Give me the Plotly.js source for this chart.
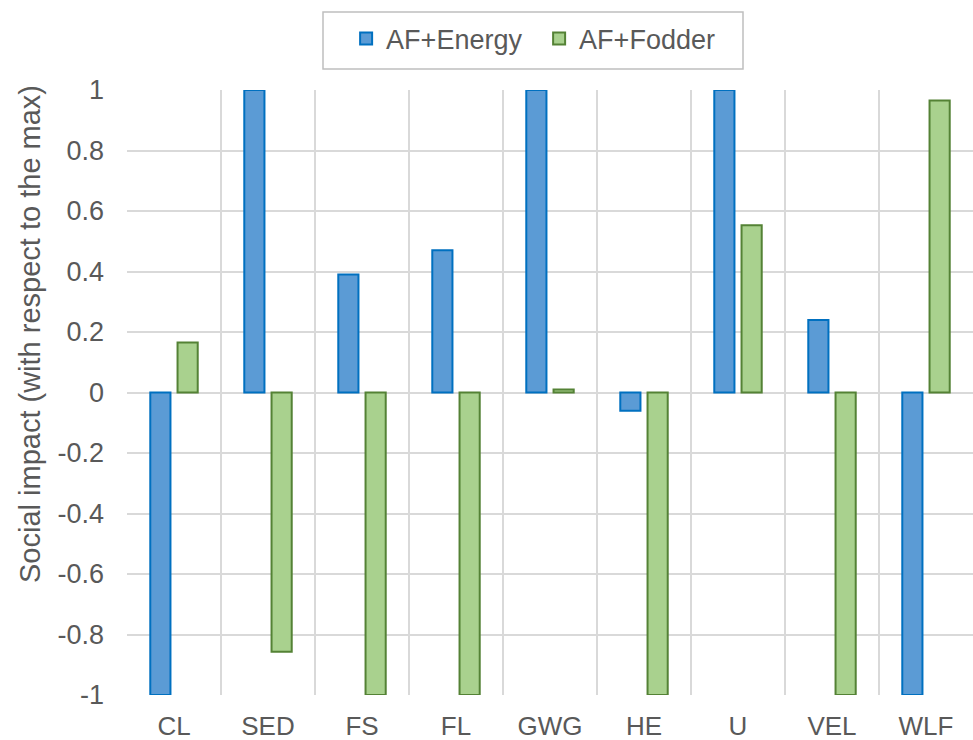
<!DOCTYPE html>
<html>
<head>
<meta charset="utf-8">
<script src="https://cdn.plot.ly/plotly-3.0.1.min.js"></script>
<style>
  html, body { margin: 0; padding: 0; background: #ffffff; }
  #chart { width: 973px; height: 740px; }
</style>
</head>
<body>
<div id="chart"></div>
<script>
// Social impact indicators, normalised to the maximum of each indicator
const categories = ['CL', 'SED', 'FS', 'FL', 'GWG', 'HE', 'U', 'VEL', 'WLF'];
const energyValues = [-1, 1, 0.39, 0.47, 1, -0.06, 1, 0.24, -1];
const fodderValues = [0.165, -0.857, -1, -1, 0.01, -1, 0.553, -1, 0.965];
const seriesNames = ['AF+Energy', 'AF+Fodder'];
const yTickValues = [1, 0.8, 0.6, 0.4, 0.2, 0, -0.2, -0.4, -0.6, -0.8, -1];
const yTickLabels = ['1', '0.8', '0.6', '0.4', '0.2', '0', '-0.2', '-0.4', '-0.6', '-0.8', '-1'];
const yTitle = 'Social impact (with respect to the max)';

const textColor = '#595959';
const gridColor = '#D9D9D9';
const fontFamily = '"Liberation Sans", Arial, sans-serif';

const traces = [
  {
    type: 'bar',
    name: seriesNames[0],
    x: categories,
    y: energyValues,
    cliponaxis: false,
    marker: { color: '#5B9BD5', line: { color: '#0070C0', width: 2 } },
    hoverinfo: 'x+y+name'
  },
  {
    type: 'bar',
    name: seriesNames[1],
    x: categories,
    y: fodderValues,
    cliponaxis: false,
    marker: { color: '#A9D18E', line: { color: '#548235', width: 2 } },
    hoverinfo: 'x+y+name'
  }
];

const layout = {
  width: 973,
  height: 740,
  margin: { l: 127, r: 0, t: 90, b: 45, pad: 0 },
  paper_bgcolor: '#ffffff',
  plot_bgcolor: '#ffffff',
  font: { family: fontFamily, color: textColor, size: 26 },
  barmode: 'group',
  bargap: 0.42,
  bargroupgap: 0.26,
  showlegend: true,
  legend: {
    orientation: 'h',
    xref: 'paper', yref: 'paper',
    x: 0.259, xanchor: 'left',
    y: 1.125, yanchor: 'top',
    bgcolor: 'rgba(0,0,0,0)',
    borderwidth: 0,
    font: { family: fontFamily, size: 27, color: textColor },
    entrywidth: 148,
    traceorder: 'normal'
  },
  xaxis: {
    type: 'category',
    tickson: 'boundaries',
    showgrid: true,
    gridcolor: gridColor,
    gridwidth: 2,
    showline: false,
    zeroline: false,
    ticks: '',
    ticklabelstandoff: 13,
    tickfont: { family: fontFamily, size: 26, color: textColor },
    fixedrange: true
  },
  yaxis: {
    range: [-1, 1],
    tickvals: yTickValues,
    ticktext: yTickLabels,
    showgrid: true,
    gridcolor: gridColor,
    gridwidth: 2,
    zeroline: true,
    zerolinecolor: gridColor,
    zerolinewidth: 2,
    showline: false,
    ticks: '',
    ticklabelstandoff: 22,
    tickfont: { family: fontFamily, size: 27, color: textColor },
    automargin: false,
    fixedrange: true
  },
  annotations: [
    {
      text: yTitle,
      xref: 'paper', yref: 'paper',
      x: (30 - 127) / 846, xanchor: 'center',
      y: (695 - 334) / 605, yanchor: 'middle',
      textangle: -90,
      showarrow: false,
      font: { family: fontFamily, size: 29, color: textColor }
    }
  ],
  shapes: [
    {
      type: 'rect',
      xref: 'paper', yref: 'paper',
      x0: (323 - 127) / 846, x1: (743 - 127) / 846,
      y0: 1 + (90 - 69) / 605, y1: 1 + (90 - 12) / 605,
      line: { color: '#BFBFBF', width: 1.5 },
      fillcolor: 'rgba(0,0,0,0)',
      layer: 'below'
    }
  ]
};

Plotly.newPlot('chart', traces, layout, { displayModeBar: false, staticPlot: true });
</script>
</body>
</html>
